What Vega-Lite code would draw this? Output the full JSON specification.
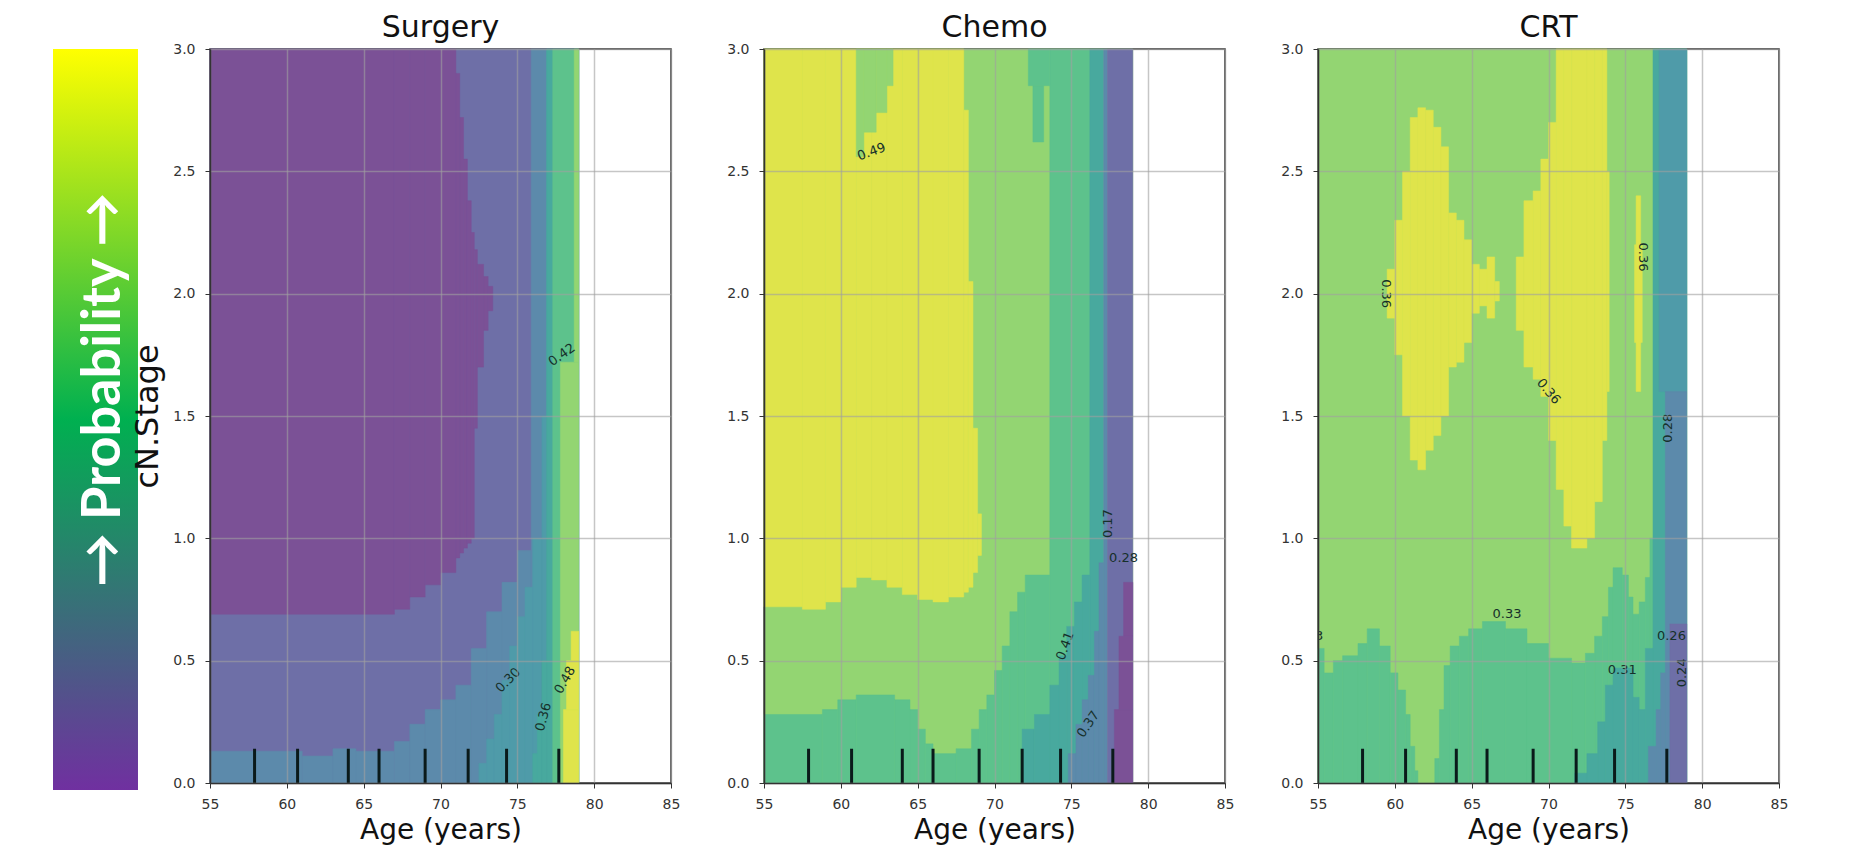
{
"$schema": "https://vega.github.io/schema/vega-lite/v6.json",
"background": "white",
"padding": {"left": 53, "top": 12, "right": 5, "bottom": 5},
"bounds": "flush",
"spacing": 93,
"config": {
  "view": {"stroke": "#333", "strokeWidth": 1.5},
  "font": "DejaVu Sans",
  "axis": {"labelFont": "DejaVu Sans", "labelFontSize": 14, "labelColor": "#333", "tickColor": "#333", "tickSize": 5, "domainColor": "#333", "domainWidth": 1.5, "grid": true, "gridColor": "#a0a0a0", "gridOpacity": 0.6, "gridWidth": 1.5, "zindex": 1, "titleFont": "DejaVu Sans", "titleFontWeight": "normal", "titleColor": "#111", "labelFlush": false, "labelOverlap": false},
  "axisX": {"labelPadding": 9, "titleFontSize": 28, "titlePadding": 5},
  "axisY": {"labelPadding": 10, "titleFontSize": 32, "titlePadding": 8},
  "title": {"font": "DejaVu Sans", "fontSize": 30, "fontWeight": "normal", "color": "#111", "frame": "group", "offset": -1}
},
"datasets": {
  "rug": [{"age":57.9},{"age":60.7},{"age":64.0},{"age":66.0},{"age":69.0},{"age":71.8},{"age":74.3},{"age":77.7}],
  "fills": [
{"p":"S","a0":55,"a1":79,"s0":0,"s1":3,"c":"BP"},
{"p":"S","a0":55,"a1":67,"s0":0.69,"s1":3,"c":"P"},
{"p":"S","a0":67,"a1":68,"s0":0.71,"s1":3,"c":"P"},
{"p":"S","a0":68,"a1":69,"s0":0.76,"s1":3,"c":"P"},
{"p":"S","a0":69,"a1":70,"s0":0.81,"s1":3,"c":"P"},
{"p":"S","a0":70,"a1":71,"s0":0.86,"s1":3,"c":"P"},
{"p":"S","a0":71,"a1":71.25,"s0":0.92,"s1":2.9,"c":"P"},
{"p":"S","a0":71.25,"a1":71.5,"s0":0.94,"s1":2.72,"c":"P"},
{"p":"S","a0":71.5,"a1":71.75,"s0":0.96,"s1":2.55,"c":"P"},
{"p":"S","a0":71.75,"a1":72,"s0":0.98,"s1":2.38,"c":"P"},
{"p":"S","a0":72,"a1":72.2,"s0":1.0,"s1":2.25,"c":"P"},
{"p":"S","a0":72.2,"a1":72.4,"s0":1.45,"s1":2.18,"c":"P"},
{"p":"S","a0":72.4,"a1":72.8,"s0":1.7,"s1":2.12,"c":"P"},
{"p":"S","a0":72.8,"a1":73.1,"s0":1.85,"s1":2.07,"c":"P"},
{"p":"S","a0":73.1,"a1":73.4,"s0":1.93,"s1":2.03,"c":"P"},
{"p":"S","a0":55,"a1":61,"s0":0,"s1":0.13,"c":"ST"},
{"p":"S","a0":61,"a1":63,"s0":0,"s1":0.11,"c":"ST"},
{"p":"S","a0":63,"a1":64.5,"s0":0,"s1":0.14,"c":"ST"},
{"p":"S","a0":64.5,"a1":67,"s0":0,"s1":0.13,"c":"ST"},
{"p":"S","a0":67,"a1":68,"s0":0,"s1":0.17,"c":"ST"},
{"p":"S","a0":68,"a1":69,"s0":0,"s1":0.24,"c":"ST"},
{"p":"S","a0":69,"a1":70,"s0":0,"s1":0.3,"c":"ST"},
{"p":"S","a0":70,"a1":71,"s0":0,"s1":0.34,"c":"ST"},
{"p":"S","a0":71,"a1":72,"s0":0,"s1":0.4,"c":"ST"},
{"p":"S","a0":72,"a1":73,"s0":0,"s1":0.55,"c":"ST"},
{"p":"S","a0":73,"a1":74,"s0":0,"s1":0.7,"c":"ST"},
{"p":"S","a0":74,"a1":75,"s0":0,"s1":0.82,"c":"ST"},
{"p":"S","a0":75,"a1":75.9,"s0":0,"s1":0.95,"c":"ST"},
{"p":"S","a0":75.9,"a1":79,"s0":0,"s1":3,"c":"ST"},
{"p":"S","a0":72.5,"a1":73,"s0":0,"s1":0.08,"c":"TB"},
{"p":"S","a0":73,"a1":73.5,"s0":0,"s1":0.18,"c":"TB"},
{"p":"S","a0":73.5,"a1":74,"s0":0,"s1":0.28,"c":"TB"},
{"p":"S","a0":74,"a1":74.5,"s0":0,"s1":0.42,"c":"TB"},
{"p":"S","a0":74.5,"a1":75,"s0":0,"s1":0.56,"c":"TB"},
{"p":"S","a0":75,"a1":75.5,"s0":0,"s1":0.68,"c":"TB"},
{"p":"S","a0":75.5,"a1":76,"s0":0,"s1":0.8,"c":"TB"},
{"p":"S","a0":76,"a1":76.6,"s0":0,"s1":1.0,"c":"TB"},
{"p":"S","a0":76.6,"a1":76.9,"s0":0,"s1":1.5,"c":"TB"},
{"p":"S","a0":76,"a1":76.3,"s0":0,"s1":0.12,"c":"T"},
{"p":"S","a0":76.3,"a1":76.6,"s0":0,"s1":0.28,"c":"T"},
{"p":"S","a0":76.6,"a1":76.9,"s0":0,"s1":0.5,"c":"T"},
{"p":"S","a0":76.9,"a1":77.3,"s0":0,"s1":3,"c":"T"},
{"p":"S","a0":77.3,"a1":79,"s0":0,"s1":3,"c":"G"},
{"p":"S","a0":77.8,"a1":79,"s0":0,"s1":1.72,"c":"LG"},
{"p":"S","a0":78.7,"a1":79,"s0":1.72,"s1":3,"c":"LG"},
{"p":"S","a0":78,"a1":79,"s0":0,"s1":0.3,"c":"Y"},
{"p":"S","a0":78.2,"a1":79,"s0":0.3,"s1":0.5,"c":"Y"},
{"p":"S","a0":78.5,"a1":79,"s0":0.5,"s1":0.62,"c":"Y"},

{"p":"C","a0":55,"a1":79,"s0":0,"s1":3,"c":"LG"},
{"p":"C","a0":55,"a1":57.5,"s0":0.72,"s1":3,"c":"Y"},
{"p":"C","a0":57.5,"a1":59,"s0":0.71,"s1":3,"c":"Y"},
{"p":"C","a0":59,"a1":60,"s0":0.74,"s1":3,"c":"Y"},
{"p":"C","a0":60,"a1":61,"s0":0.8,"s1":3,"c":"Y"},
{"p":"C","a0":61,"a1":62,"s0":0.84,"s1":3,"c":"Y"},
{"p":"C","a0":62,"a1":63,"s0":0.83,"s1":3,"c":"Y"},
{"p":"C","a0":63,"a1":64,"s0":0.8,"s1":3,"c":"Y"},
{"p":"C","a0":64,"a1":65,"s0":0.77,"s1":3,"c":"Y"},
{"p":"C","a0":65,"a1":66,"s0":0.75,"s1":3,"c":"Y"},
{"p":"C","a0":66,"a1":67,"s0":0.74,"s1":3,"c":"Y"},
{"p":"C","a0":67,"a1":68,"s0":0.76,"s1":3,"c":"Y"},
{"p":"C","a0":68,"a1":68.3,"s0":0.78,"s1":2.75,"c":"Y"},
{"p":"C","a0":68.3,"a1":68.6,"s0":0.8,"s1":2.05,"c":"Y"},
{"p":"C","a0":68.6,"a1":68.9,"s0":0.86,"s1":1.45,"c":"Y"},
{"p":"C","a0":68.9,"a1":69.15,"s0":0.93,"s1":1.1,"c":"Y"},
{"p":"C","a0":61,"a1":61.5,"s0":2.56,"s1":3,"c":"LG"},
{"p":"C","a0":61.5,"a1":62.3,"s0":2.66,"s1":3,"c":"LG"},
{"p":"C","a0":62.3,"a1":63,"s0":2.74,"s1":3,"c":"LG"},
{"p":"C","a0":63,"a1":63.4,"s0":2.85,"s1":3,"c":"LG"},
{"p":"C","a0":55,"a1":58.8,"s0":0,"s1":0.28,"c":"G"},
{"p":"C","a0":58.8,"a1":59.8,"s0":0,"s1":0.3,"c":"G"},
{"p":"C","a0":59.8,"a1":61,"s0":0,"s1":0.34,"c":"G"},
{"p":"C","a0":61,"a1":63.5,"s0":0,"s1":0.36,"c":"G"},
{"p":"C","a0":63.5,"a1":64.5,"s0":0,"s1":0.34,"c":"G"},
{"p":"C","a0":64.5,"a1":65,"s0":0,"s1":0.3,"c":"G"},
{"p":"C","a0":65,"a1":65.5,"s0":0,"s1":0.22,"c":"G"},
{"p":"C","a0":65.5,"a1":66,"s0":0,"s1":0.16,"c":"G"},
{"p":"C","a0":66,"a1":67.5,"s0":0,"s1":0.12,"c":"G"},
{"p":"C","a0":67.5,"a1":68.5,"s0":0,"s1":0.14,"c":"G"},
{"p":"C","a0":68.5,"a1":69,"s0":0,"s1":0.22,"c":"G"},
{"p":"C","a0":69,"a1":69.5,"s0":0,"s1":0.3,"c":"G"},
{"p":"C","a0":69.5,"a1":70,"s0":0,"s1":0.36,"c":"G"},
{"p":"C","a0":70,"a1":70.5,"s0":0,"s1":0.46,"c":"G"},
{"p":"C","a0":70.5,"a1":71,"s0":0,"s1":0.56,"c":"G"},
{"p":"C","a0":71,"a1":71.5,"s0":0,"s1":0.7,"c":"G"},
{"p":"C","a0":71.5,"a1":72,"s0":0,"s1":0.78,"c":"G"},
{"p":"C","a0":72,"a1":73.6,"s0":0,"s1":0.85,"c":"G"},
{"p":"C","a0":73.6,"a1":76.2,"s0":0,"s1":3,"c":"G"},
{"p":"C","a0":72.2,"a1":73.6,"s0":2.85,"s1":3,"c":"G"},
{"p":"C","a0":72.5,"a1":73.2,"s0":2.62,"s1":2.85,"c":"G"},
{"p":"C","a0":76.2,"a1":77.1,"s0":0,"s1":3,"c":"T"},
{"p":"C","a0":71.8,"a1":72.6,"s0":0,"s1":0.22,"c":"T"},
{"p":"C","a0":72.6,"a1":73.6,"s0":0,"s1":0.28,"c":"T"},
{"p":"C","a0":73.6,"a1":74.2,"s0":0,"s1":0.4,"c":"T"},
{"p":"C","a0":74.2,"a1":74.7,"s0":0,"s1":0.52,"c":"T"},
{"p":"C","a0":74.7,"a1":75.2,"s0":0,"s1":0.64,"c":"T"},
{"p":"C","a0":75.2,"a1":75.7,"s0":0,"s1":0.74,"c":"T"},
{"p":"C","a0":75.7,"a1":76.2,"s0":0,"s1":0.85,"c":"T"},
{"p":"C","a0":74.8,"a1":75.3,"s0":0,"s1":0.12,"c":"ST"},
{"p":"C","a0":75.3,"a1":75.7,"s0":0,"s1":0.24,"c":"ST"},
{"p":"C","a0":75.7,"a1":76.1,"s0":0,"s1":0.34,"c":"ST"},
{"p":"C","a0":76.1,"a1":76.5,"s0":0,"s1":0.44,"c":"ST"},
{"p":"C","a0":76.5,"a1":76.8,"s0":0,"s1":0.62,"c":"ST"},
{"p":"C","a0":76.8,"a1":77.1,"s0":0,"s1":0.9,"c":"ST"},
{"p":"C","a0":77.1,"a1":77.35,"s0":0,"s1":3,"c":"ST"},
{"p":"C","a0":77.35,"a1":79,"s0":0,"s1":3,"c":"BP"},
{"p":"C","a0":78.4,"a1":79,"s0":0.6,"s1":0.82,"c":"P"},
{"p":"C","a0":78.1,"a1":79,"s0":0.3,"s1":0.6,"c":"P"},
{"p":"C","a0":77.8,"a1":79,"s0":0,"s1":0.3,"c":"P"},

{"p":"R","a0":55,"a1":79,"s0":0,"s1":3,"c":"LG"},
{"p":"R","a0":59.5,"a1":60,"s0":1.9,"s1":2.1,"c":"Y"},
{"p":"R","a0":60,"a1":60.5,"s0":1.75,"s1":2.3,"c":"Y"},
{"p":"R","a0":60.5,"a1":61,"s0":1.5,"s1":2.5,"c":"Y"},
{"p":"R","a0":61,"a1":61.5,"s0":1.32,"s1":2.72,"c":"Y"},
{"p":"R","a0":61.5,"a1":62,"s0":1.28,"s1":2.76,"c":"Y"},
{"p":"R","a0":62,"a1":62.5,"s0":1.36,"s1":2.75,"c":"Y"},
{"p":"R","a0":62.5,"a1":63,"s0":1.42,"s1":2.68,"c":"Y"},
{"p":"R","a0":63,"a1":63.5,"s0":1.5,"s1":2.6,"c":"Y"},
{"p":"R","a0":63.5,"a1":64,"s0":1.7,"s1":2.33,"c":"Y"},
{"p":"R","a0":64,"a1":64.5,"s0":1.72,"s1":2.3,"c":"Y"},
{"p":"R","a0":64.5,"a1":65,"s0":1.8,"s1":2.22,"c":"Y"},
{"p":"R","a0":65,"a1":65.5,"s0":1.92,"s1":2.12,"c":"Y"},
{"p":"R","a0":65.5,"a1":66,"s0":1.95,"s1":2.1,"c":"Y"},
{"p":"R","a0":66,"a1":66.5,"s0":1.9,"s1":2.15,"c":"Y"},
{"p":"R","a0":66.5,"a1":66.8,"s0":1.97,"s1":2.05,"c":"Y"},
{"p":"R","a0":67.9,"a1":68.4,"s0":1.85,"s1":2.15,"c":"Y"},
{"p":"R","a0":68.4,"a1":69,"s0":1.7,"s1":2.38,"c":"Y"},
{"p":"R","a0":69,"a1":69.5,"s0":1.65,"s1":2.42,"c":"Y"},
{"p":"R","a0":69.5,"a1":70,"s0":1.58,"s1":2.55,"c":"Y"},
{"p":"R","a0":70,"a1":70.5,"s0":1.4,"s1":2.7,"c":"Y"},
{"p":"R","a0":70.5,"a1":71,"s0":1.2,"s1":3,"c":"Y"},
{"p":"R","a0":71,"a1":71.5,"s0":1.05,"s1":3,"c":"Y"},
{"p":"R","a0":71.5,"a1":72.5,"s0":0.96,"s1":3,"c":"Y"},
{"p":"R","a0":72.5,"a1":73,"s0":1.0,"s1":3,"c":"Y"},
{"p":"R","a0":73,"a1":73.5,"s0":1.15,"s1":3,"c":"Y"},
{"p":"R","a0":73.5,"a1":73.8,"s0":1.4,"s1":3,"c":"Y"},
{"p":"R","a0":73.8,"a1":73.95,"s0":1.6,"s1":2.5,"c":"Y"},
{"p":"R","a0":75.6,"a1":76.1,"s0":1.8,"s1":2.2,"c":"Y"},
{"p":"R","a0":75.7,"a1":76.0,"s0":1.6,"s1":2.4,"c":"Y"},
{"p":"R","a0":55,"a1":55.4,"s0":0,"s1":0.55,"c":"G"},
{"p":"R","a0":55.4,"a1":56,"s0":0,"s1":0.45,"c":"G"},
{"p":"R","a0":56,"a1":56.6,"s0":0,"s1":0.5,"c":"G"},
{"p":"R","a0":56.6,"a1":57.6,"s0":0,"s1":0.52,"c":"G"},
{"p":"R","a0":57.6,"a1":58.2,"s0":0,"s1":0.57,"c":"G"},
{"p":"R","a0":58.2,"a1":59,"s0":0,"s1":0.63,"c":"G"},
{"p":"R","a0":59,"a1":59.7,"s0":0,"s1":0.56,"c":"G"},
{"p":"R","a0":59.7,"a1":60.2,"s0":0,"s1":0.45,"c":"G"},
{"p":"R","a0":60.2,"a1":60.7,"s0":0,"s1":0.38,"c":"G"},
{"p":"R","a0":60.7,"a1":61,"s0":0,"s1":0.28,"c":"G"},
{"p":"R","a0":61,"a1":61.3,"s0":0,"s1":0.15,"c":"G"},
{"p":"R","a0":61.3,"a1":61.5,"s0":0,"s1":0.05,"c":"G"},
{"p":"R","a0":62.6,"a1":62.9,"s0":0,"s1":0.1,"c":"G"},
{"p":"R","a0":62.9,"a1":63.2,"s0":0,"s1":0.3,"c":"G"},
{"p":"R","a0":63.2,"a1":63.6,"s0":0,"s1":0.48,"c":"G"},
{"p":"R","a0":63.6,"a1":64.2,"s0":0,"s1":0.56,"c":"G"},
{"p":"R","a0":64.2,"a1":64.8,"s0":0,"s1":0.6,"c":"G"},
{"p":"R","a0":64.8,"a1":65.7,"s0":0,"s1":0.63,"c":"G"},
{"p":"R","a0":65.7,"a1":67.2,"s0":0,"s1":0.66,"c":"G"},
{"p":"R","a0":67.2,"a1":68.6,"s0":0,"s1":0.63,"c":"G"},
{"p":"R","a0":68.6,"a1":70,"s0":0,"s1":0.57,"c":"G"},
{"p":"R","a0":70,"a1":71.5,"s0":0,"s1":0.51,"c":"G"},
{"p":"R","a0":71.5,"a1":72.4,"s0":0,"s1":0.49,"c":"G"},
{"p":"R","a0":72.4,"a1":73,"s0":0,"s1":0.53,"c":"G"},
{"p":"R","a0":73,"a1":73.5,"s0":0,"s1":0.6,"c":"G"},
{"p":"R","a0":73.5,"a1":73.9,"s0":0,"s1":0.68,"c":"G"},
{"p":"R","a0":73.9,"a1":74.2,"s0":0,"s1":0.8,"c":"G"},
{"p":"R","a0":74.2,"a1":74.8,"s0":0,"s1":0.88,"c":"G"},
{"p":"R","a0":74.8,"a1":75.2,"s0":0,"s1":0.85,"c":"G"},
{"p":"R","a0":75.2,"a1":75.5,"s0":0,"s1":0.76,"c":"G"},
{"p":"R","a0":75.5,"a1":75.9,"s0":0,"s1":0.69,"c":"G"},
{"p":"R","a0":75.9,"a1":76.3,"s0":0,"s1":0.74,"c":"G"},
{"p":"R","a0":76.3,"a1":76.6,"s0":0,"s1":0.84,"c":"G"},
{"p":"R","a0":76.6,"a1":76.9,"s0":0,"s1":1.0,"c":"G"},
{"p":"R","a0":76.8,"a1":79,"s0":0,"s1":3,"c":"T"},
{"p":"R","a0":71.7,"a1":72.5,"s0":0,"s1":0.04,"c":"T"},
{"p":"R","a0":72.5,"a1":73.2,"s0":0,"s1":0.12,"c":"T"},
{"p":"R","a0":73.2,"a1":73.7,"s0":0,"s1":0.25,"c":"T"},
{"p":"R","a0":73.7,"a1":74.2,"s0":0,"s1":0.4,"c":"T"},
{"p":"R","a0":74.2,"a1":75.5,"s0":0,"s1":0.47,"c":"T"},
{"p":"R","a0":75.5,"a1":75.9,"s0":0,"s1":0.35,"c":"T"},
{"p":"R","a0":75.9,"a1":76.3,"s0":0,"s1":0.3,"c":"T"},
{"p":"R","a0":76.3,"a1":76.8,"s0":0,"s1":0.55,"c":"T"},
{"p":"R","a0":77.2,"a1":79,"s0":1.6,"s1":3,"c":"TB"},
{"p":"R","a0":76.5,"a1":77,"s0":0,"s1":0.15,"c":"ST"},
{"p":"R","a0":77,"a1":77.3,"s0":0,"s1":0.3,"c":"ST"},
{"p":"R","a0":77.3,"a1":77.6,"s0":0,"s1":0.45,"c":"ST"},
{"p":"R","a0":77.6,"a1":79,"s0":0,"s1":1.6,"c":"ST"},
{"p":"R","a0":77.9,"a1":79,"s0":0,"s1":0.65,"c":"BP"}
  ]
},
"hconcat": [
  {
    "width": 64, "height": 741,
    "view": {"stroke": null},
    "data": {"values": [{"label": "→ Probability →"}]},
    "layer": [
      {"mark": {"type": "rect", "color": {"gradient": "linear", "x1": 0, "y1": 1, "x2": 0, "y2": 0, "stops": [{"offset": 0, "color": "#7030A0"}, {"offset": 0.5, "color": "#00B050"}, {"offset": 1, "color": "#FFFF00"}]}},
       "encoding": {
         "x": {"datum": 0, "type": "quantitative", "scale": {"domain": [0, 1], "nice": false, "zero": false}, "axis": null},
         "x2": {"datum": 1.328},
         "y": {"datum": 0, "type": "quantitative", "scale": {"domain": [0, 1], "nice": false, "zero": false}, "axis": null},
         "y2": {"datum": 1}}},
      {"mark": {"type": "text", "angle": 270, "font": "Lato", "fontWeight": "bold", "fontSize": 54, "color": "white", "align": "center", "baseline": "middle"},
       "encoding": {
         "x": {"datum": 0.79, "type": "quantitative"},
         "y": {"datum": 0.54, "type": "quantitative"},
         "text": {"field": "label"}}}
    ]
  },
  {
    "width": 461, "height": 734,
    "title": {"text": "Surgery"},
    "layer": [
      {"data": {"name": "fills"}, "transform": [{"filter": "datum.p === 'S'"}],
       "mark": {"type": "rect", "strokeWidth": 0.5},
       "encoding": {
         "x": {"field": "a0", "type": "quantitative", "scale": {"domain": [55, 85], "nice": false, "zero": false}, "axis": {"values": [55,60,65,70,75,80,85], "title": "Age (years)", "zindex": 1}},
         "x2": {"field": "a1"},
         "y": {"field": "s0", "type": "quantitative", "scale": {"domain": [0, 3], "nice": false, "zero": false}, "axis": {"values": [0,0.5,1,1.5,2,2.5,3], "format": ".1f", "title": "cN.Stage", "zindex": 1}},
         "y2": {"field": "s1"},
         "color": {"field": "c", "type": "nominal", "scale": {"domain": ["P","BP","ST","TB","T","G","LG","Y"], "range": ["#7B5196","#6E6FA7","#5C8AAB","#4F9BA9","#48A99E","#5DC28C","#93D572","#DFE44B"]}, "legend": null},
         "stroke": {"field": "c", "type": "nominal", "scale": {"domain": ["P","BP","ST","TB","T","G","LG","Y"], "range": ["#7B5196","#6E6FA7","#5C8AAB","#4F9BA9","#48A99E","#5DC28C","#93D572","#DFE44B"]}, "legend": null}}},
      {"data": {"name": "rug"}, "mark": {"type": "rule", "color": "#0a1a1a", "strokeWidth": 3},
       "encoding": {"x": {"field": "age", "type": "quantitative"}, "y": {"datum": 0, "type": "quantitative"}, "y2": {"datum": 0.14}}},
      {"data": {"values": [{"age": 77.9, "stage": 1.75, "t": "0.42"}]}, "mark": {"type": "text", "angle": -35, "fontSize": 13, "color": "#16302a"}, "encoding": {"x": {"field": "age", "type": "quantitative"}, "y": {"field": "stage", "type": "quantitative"}, "text": {"field": "t"}}},
      {"data": {"values": [{"age": 74.4, "stage": 0.42, "t": "0.30"}]}, "mark": {"type": "text", "angle": -45, "fontSize": 13, "color": "#16302a"}, "encoding": {"x": {"field": "age", "type": "quantitative"}, "y": {"field": "stage", "type": "quantitative"}, "text": {"field": "t"}}},
      {"data": {"values": [{"age": 76.7, "stage": 0.27, "t": "0.36"}]}, "mark": {"type": "text", "angle": -75, "fontSize": 13, "color": "#16302a"}, "encoding": {"x": {"field": "age", "type": "quantitative"}, "y": {"field": "stage", "type": "quantitative"}, "text": {"field": "t"}}},
      {"data": {"values": [{"age": 78.1, "stage": 0.42, "t": "0.48"}]}, "mark": {"type": "text", "angle": -60, "fontSize": 13, "color": "#16302a"}, "encoding": {"x": {"field": "age", "type": "quantitative"}, "y": {"field": "stage", "type": "quantitative"}, "text": {"field": "t"}}}
    ]
  },
  {
    "width": 461, "height": 734,
    "title": {"text": "Chemo"},
    "layer": [
      {"data": {"name": "fills"}, "transform": [{"filter": "datum.p === 'C'"}],
       "mark": {"type": "rect", "strokeWidth": 0.5},
       "encoding": {
         "x": {"field": "a0", "type": "quantitative", "scale": {"domain": [55, 85], "nice": false, "zero": false}, "axis": {"values": [55,60,65,70,75,80,85], "title": "Age (years)", "zindex": 1}},
         "x2": {"field": "a1"},
         "y": {"field": "s0", "type": "quantitative", "scale": {"domain": [0, 3], "nice": false, "zero": false}, "axis": {"values": [0,0.5,1,1.5,2,2.5,3], "format": ".1f", "title": null, "zindex": 1}},
         "y2": {"field": "s1"},
         "color": {"field": "c", "type": "nominal", "scale": {"domain": ["P","BP","ST","TB","T","G","LG","Y"], "range": ["#7B5196","#6E6FA7","#5C8AAB","#4F9BA9","#48A99E","#5DC28C","#93D572","#DFE44B"]}, "legend": null},
         "stroke": {"field": "c", "type": "nominal", "scale": {"domain": ["P","BP","ST","TB","T","G","LG","Y"], "range": ["#7B5196","#6E6FA7","#5C8AAB","#4F9BA9","#48A99E","#5DC28C","#93D572","#DFE44B"]}, "legend": null}}},
      {"data": {"name": "rug"}, "mark": {"type": "rule", "color": "#0a1a1a", "strokeWidth": 3},
       "encoding": {"x": {"field": "age", "type": "quantitative"}, "y": {"datum": 0, "type": "quantitative"}, "y2": {"datum": 0.14}}},
      {"data": {"values": [{"age": 62.0, "stage": 2.58, "t": "0.49"}]}, "mark": {"type": "text", "angle": -20, "fontSize": 13, "color": "#16302a"}, "encoding": {"x": {"field": "age", "type": "quantitative"}, "y": {"field": "stage", "type": "quantitative"}, "text": {"field": "t"}}},
      {"data": {"values": [{"age": 74.6, "stage": 0.56, "t": "0.41"}]}, "mark": {"type": "text", "angle": -70, "fontSize": 13, "color": "#16302a"}, "encoding": {"x": {"field": "age", "type": "quantitative"}, "y": {"field": "stage", "type": "quantitative"}, "text": {"field": "t"}}},
      {"data": {"values": [{"age": 76.1, "stage": 0.24, "t": "0.37"}]}, "mark": {"type": "text", "angle": -55, "fontSize": 13, "color": "#16302a"}, "encoding": {"x": {"field": "age", "type": "quantitative"}, "y": {"field": "stage", "type": "quantitative"}, "text": {"field": "t"}}},
      {"data": {"values": [{"age": 77.4, "stage": 1.06, "t": "0.17"}]}, "mark": {"type": "text", "angle": -90, "fontSize": 13, "color": "#16302a"}, "encoding": {"x": {"field": "age", "type": "quantitative"}, "y": {"field": "stage", "type": "quantitative"}, "text": {"field": "t"}}},
      {"data": {"values": [{"age": 78.4, "stage": 0.92, "t": "0.28"}]}, "mark": {"type": "text", "angle": 0, "fontSize": 13, "color": "#16302a"}, "encoding": {"x": {"field": "age", "type": "quantitative"}, "y": {"field": "stage", "type": "quantitative"}, "text": {"field": "t"}}}
    ]
  },
  {
    "width": 461, "height": 734,
    "title": {"text": "CRT"},
    "layer": [
      {"data": {"name": "fills"}, "transform": [{"filter": "datum.p === 'R'"}],
       "mark": {"type": "rect", "strokeWidth": 0.5},
       "encoding": {
         "x": {"field": "a0", "type": "quantitative", "scale": {"domain": [55, 85], "nice": false, "zero": false}, "axis": {"values": [55,60,65,70,75,80,85], "title": "Age (years)", "zindex": 1}},
         "x2": {"field": "a1"},
         "y": {"field": "s0", "type": "quantitative", "scale": {"domain": [0, 3], "nice": false, "zero": false}, "axis": {"values": [0,0.5,1,1.5,2,2.5,3], "format": ".1f", "title": null, "zindex": 1}},
         "y2": {"field": "s1"},
         "color": {"field": "c", "type": "nominal", "scale": {"domain": ["P","BP","ST","TB","T","G","LG","Y"], "range": ["#7B5196","#6E6FA7","#5C8AAB","#4F9BA9","#48A99E","#5DC28C","#93D572","#DFE44B"]}, "legend": null},
         "stroke": {"field": "c", "type": "nominal", "scale": {"domain": ["P","BP","ST","TB","T","G","LG","Y"], "range": ["#7B5196","#6E6FA7","#5C8AAB","#4F9BA9","#48A99E","#5DC28C","#93D572","#DFE44B"]}, "legend": null}}},
      {"data": {"name": "rug"}, "mark": {"type": "rule", "color": "#0a1a1a", "strokeWidth": 3},
       "encoding": {"x": {"field": "age", "type": "quantitative"}, "y": {"datum": 0, "type": "quantitative"}, "y2": {"datum": 0.14}}},
      {"data": {"values": [{"age": 59.45, "stage": 2.0, "t": "0.36"}, {"age": 76.15, "stage": 2.15, "t": "0.36"}]}, "mark": {"type": "text", "angle": 90, "fontSize": 13, "color": "#16302a"}, "encoding": {"x": {"field": "age", "type": "quantitative"}, "y": {"field": "stage", "type": "quantitative"}, "text": {"field": "t"}}},
      {"data": {"values": [{"age": 70.0, "stage": 1.6, "t": "0.36"}]}, "mark": {"type": "text", "angle": 50, "fontSize": 13, "color": "#16302a"}, "encoding": {"x": {"field": "age", "type": "quantitative"}, "y": {"field": "stage", "type": "quantitative"}, "text": {"field": "t"}}},
      {"data": {"values": [{"age": 67.3, "stage": 0.69, "t": "0.33"}, {"age": 74.8, "stage": 0.46, "t": "0.31"}, {"age": 78.0, "stage": 0.6, "t": "0.26"}]}, "mark": {"type": "text", "angle": 0, "fontSize": 13, "color": "#16302a"}, "encoding": {"x": {"field": "age", "type": "quantitative"}, "y": {"field": "stage", "type": "quantitative"}, "text": {"field": "t"}}},
      {"data": {"values": [{"age": 77.8, "stage": 1.45, "t": "0.28"}, {"age": 78.7, "stage": 0.45, "t": "0.24"}]}, "mark": {"type": "text", "angle": -90, "fontSize": 13, "color": "#16302a"}, "encoding": {"x": {"field": "age", "type": "quantitative"}, "y": {"field": "stage", "type": "quantitative"}, "text": {"field": "t"}}},
      {"data": {"values": [{"age": 54.4, "stage": 0.6, "t": "0.33"}]}, "mark": {"type": "text", "angle": 0, "fontSize": 13, "color": "#16302a", "clip": true}, "encoding": {"x": {"field": "age", "type": "quantitative"}, "y": {"field": "stage", "type": "quantitative"}, "text": {"field": "t"}}}
    ]
  }
]
}
